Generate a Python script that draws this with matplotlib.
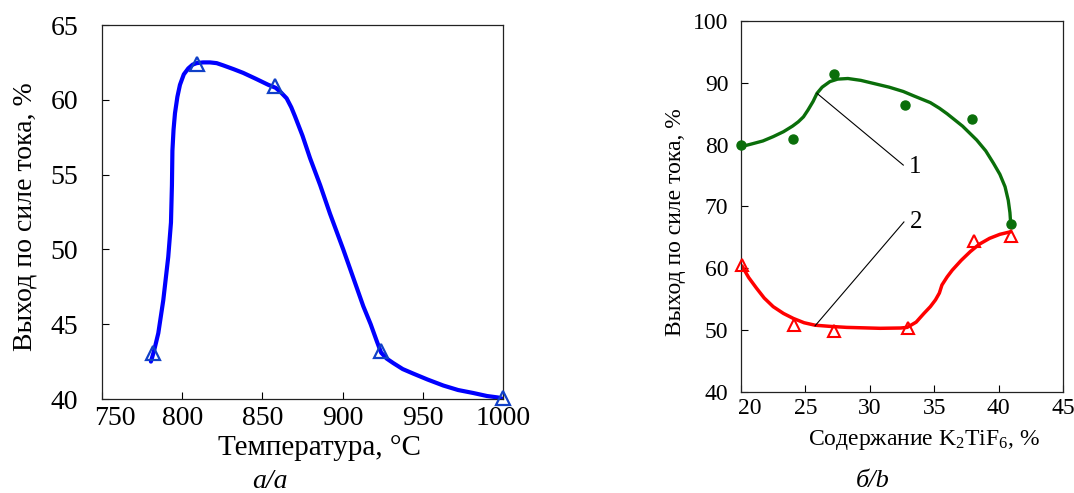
import matplotlib
matplotlib.use('Agg')
import matplotlib.pyplot as plt
from matplotlib.transforms import ScaledTranslation

plt.rcParams['font.family'] = ['Liberation Serif', 'DejaVu Serif']
plt.rcParams['mathtext.default'] = 'regular'

# ---- panel a: current efficiency vs temperature ----
temp_pts = [782, 809, 858, 924, 1000]
eff_pts = [43.1, 62.4, 60.9, 43.2, 40.1]
# smooth curve
temp_curve = [780.5, 782.4, 785.1, 788.2, 791.3, 793.0, 793.6, 793.9, 794.6, 795.5, 797.0,
              798.6, 801.0, 803.8, 806.5, 809, 813, 817.3, 821.5, 825.6, 832, 838, 846,
              853.7, 858.3, 861.5, 865.1, 868.0, 870.3, 875, 879.7, 886, 892.1, 900.4, 906,
              912.9, 917.5, 921.2, 924, 927.5, 931.6, 937.5, 944, 953, 962.8, 972, 981.5,
              990, 997, 1000]
eff_curve = [42.5, 43.2, 44.4, 46.6, 49.5, 51.8, 54.3, 56.6, 58.0, 59.1, 60.2,
             61.0, 61.7, 62.1, 62.35, 62.45, 62.5, 62.5, 62.45, 62.3, 62.05, 61.8, 61.4,
             61.0, 60.8, 60.5, 60.1, 59.5, 58.9, 57.6, 56.1, 54.3, 52.4, 50.0, 48.3,
             46.2, 45.0, 43.9, 43.1, 42.7, 42.4, 42.0, 41.7, 41.3, 40.9, 40.6, 40.4,
             40.2, 40.1, 40.0]

# ---- panel b: current efficiency vs K2TiF6 content ----
k_pts1 = [20, 24.06, 27.2, 32.7, 37.96, 40.94]
eff_pts1 = [79.9, 80.9, 91.5, 86.4, 84.15, 67.2]
k_curve1 = [20.05, 20.8, 21.7, 22.5, 23.3, 24.0, 24.45, 24.85, 25.2, 25.6, 25.9, 26.3, 26.9,
            27.5, 28.3, 29.3, 30.3, 31.5, 32.6, 33.4, 34.7, 35.4, 36.0, 37.2, 38.3, 39.0,
            39.6, 40.1, 40.5, 40.75, 40.88, 40.94]
eff_curve1 = [79.7, 80.1, 80.6, 81.3, 82.1, 83.0, 83.7, 84.5, 85.6, 87.0, 88.3, 89.3, 90.2,
              90.6, 90.7, 90.4, 89.9, 89.3, 88.6, 87.9, 86.8, 85.9, 85.0, 83.0, 80.75, 79.0,
              77.0, 75.2, 73.2, 71.0, 69.0, 67.2]

k_pts2 = [20.05, 24.1, 27.2, 33.0, 38.1, 40.94]
eff_pts2 = [60.5, 50.8, 49.8, 50.3, 64.5, 65.3]
k_curve2 = [20.1, 20.6, 21.2, 21.8, 22.5, 23.3, 24.06, 24.9, 25.75, 27.0, 28.2, 30.8, 32.4,
            32.9, 33.6, 34.2, 34.7, 35.1, 35.4, 35.6, 36.0, 36.4, 37.1, 37.8, 38.5, 39.3,
            40.1, 40.9]
eff_curve2 = [60.3, 58.5, 56.8, 55.2, 53.8, 52.7, 51.9, 51.2, 50.8, 50.6, 50.45, 50.3, 50.35,
              50.45, 51.3, 52.7, 53.8, 54.9, 56.0, 57.3, 58.6, 59.7, 61.3, 62.7, 63.9, 64.85,
              65.5, 65.9]

fig = plt.figure(figsize=(10.74, 4.93), dpi=100)

ax1 = fig.add_axes([102 / 1074, 1 - 399 / 493, 401 / 1074, 374 / 493])
ax1.plot(temp_curve, eff_curve, color='#0000ff', lw=3, solid_capstyle='round',
         solid_joinstyle='round', zorder=2)
ax1.plot(temp_pts, eff_pts, ls='none', marker='^', ms=10, mfc='none', mec='#1040c8',
         mew=1.6, clip_on=False, zorder=3)
ax1.set_xlim(750, 1000)
ax1.set_ylim(40, 65)
ax1.set_xticks([750, 800, 850, 900, 950, 1000])
ax1.set_yticks([40, 45, 50, 55, 60, 65])
ax1.tick_params(direction='in', length=5, width=0.8, labelsize=20)
ax1.tick_params(axis='y', pad=17)
ax1.tick_params(axis='x', pad=5)
fig.text(319 / 1074, 1 - 448 / 493, 'Температура, °C', ha='center', va='center', fontsize=21)
fig.text(25 / 1074, 1 - 217 / 493, 'Выход по силе тока, %', ha='center', va='center',
         rotation=90, fontsize=20)
fig.text(270 / 1074, 1 - 481 / 493, 'а/a', ha='center', va='center', fontsize=20, style='italic')

ax2 = fig.add_axes([741 / 1074, 1 - 392 / 493, 322 / 1074, 371 / 493])
ax2.plot(k_curve1, eff_curve1, color='#0a6e0a', lw=2.4, solid_joinstyle='round', zorder=2)
ax2.plot(k_pts1, eff_pts1, ls='none', marker='o', ms=6.5, color='#0a6e0a', clip_on=False, zorder=3)
ax2.plot(k_curve2, eff_curve2, color='#ff0000', lw=2.5, solid_joinstyle='round', zorder=2)
ax2.plot(k_pts2, eff_pts2, ls='none', marker='^', ms=8.5, mfc='none', mec='#ff0000',
         mew=1.5, clip_on=False, zorder=3)
ax2.plot([25.9, 32.6], [88.3, 76.7], color='black', lw=0.8)
ax2.plot([25.75, 32.65], [50.7, 67.5], color='black', lw=0.8)
ax2.text(33.5, 76.4, '1', ha='center', va='center', fontsize=18)
ax2.text(33.6, 67.5, '2', ha='center', va='center', fontsize=18)
ax2.set_xlim(20, 45)
ax2.set_ylim(40, 100)
ax2.set_xticks([20, 25, 30, 35, 40, 45])
ax2.set_yticks([40, 50, 60, 70, 80, 90, 100])
ax2.tick_params(direction='in', length=5, width=0.8, labelsize=17)
ax2.tick_params(axis='y', pad=9)
ax2.tick_params(axis='x', pad=4)
fig.text(924 / 1074, 1 - 440 / 493, 'Содержание K$_{2}$TiF$_{6}$, %', ha='center', va='center',
         fontsize=17)
fig.text(675 / 1074, 1 - 222 / 493, 'Выход по силе тока, %', ha='center', va='center',
         rotation=90, fontsize=17)
fig.text(873 / 1074, 1 - 481 / 493, 'б/b', ha='center', va='center', fontsize=19, style='italic')

for ax in (ax1, ax2):
    for s in ax.spines.values():
        s.set_linewidth(0.9)
        s.set_color('#222222')

# first x tick label sits a little to the right of its tick in the original
for ax, shift in ((ax1, 13), (ax2, 9)):
    lab = ax.xaxis.get_major_ticks()[0].label1
    lab.set_transform(lab.get_transform() + ScaledTranslation(shift / 100, 0, fig.dpi_scale_trans))

fig.savefig('out.png', dpi=100)
